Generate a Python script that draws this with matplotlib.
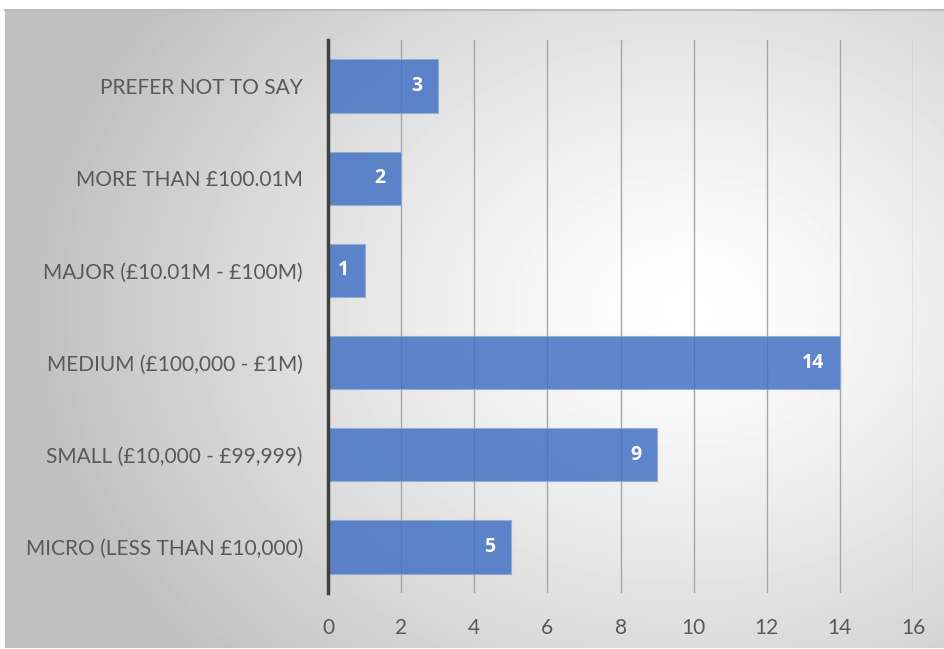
import matplotlib.pyplot as plt
import numpy as np

# turnover bands and number of responses
categories = ["MICRO (LESS THAN £10,000)", "SMALL (£10,000 - £99,999)",
              "MEDIUM (£100,000 - £1M)", "MAJOR (£10.01M - £100M)",
              "MORE THAN £100.01M", "PREFER NOT TO SAY"]
counts = [5, 9, 14, 1, 2, 3]
xticks = [0, 2, 4, 6, 8, 10, 12, 14, 16]

plt.rcParams['font.family'] = ['Lato', 'DejaVu Sans']

fig = plt.figure(figsize=(9.44, 6.49), dpi=100)

# radial grey-to-white backdrop behind the plot
bg = fig.add_axes([5/944, 1/649, 939/944, 638/649], zorder=-1)
yy, xx = np.mgrid[0:638, 0:939]
r = np.sqrt(((xx - 680) / 700.0)**2 + ((yy - 300) / 560.0)**2)
shade = np.clip(1.0 - 0.27 * r**1.3, 0.75, 1.0)
bg.imshow(shade, cmap='gray', vmin=0, vmax=1, aspect='auto', interpolation='bilinear')
bg.set_axis_off()
fig.add_artist(plt.Line2D([5/944, 1], [639/649, 639/649], color='#bdbdbd', lw=1.5))

ax = fig.add_axes([328/944, 56/649, 585/944, 553/649])
ax.patch.set_alpha(0)
y = np.arange(len(categories))
bars = ax.barh(y, counts, height=0.58, color='#4472C4', alpha=0.85,
               edgecolor='#8faadc', linewidth=0.8, zorder=3)
for yi, v in zip(y, counts):
    ax.text(v - 0.42, yi, str(v), ha='right', va='center', color='white',
            fontsize=14, fontweight='bold', family=['Open Sans', 'DejaVu Sans'],
            zorder=4)

ax.set_xlim(0, 16)
ax.set_ylim(-0.5, len(categories) - 0.5)
ax.set_xticks(xticks)
ax.set_yticks(y)
ax.set_yticklabels(categories)
ax.xaxis.grid(True, color='#a6a6a6', lw=1, zorder=0)
ax.tick_params(axis='both', length=0, labelsize=15, colors='#595959')
ax.tick_params(axis='x', pad=18)
ax.tick_params(axis='y', pad=18)
for s in ['top', 'right', 'bottom']:
    ax.spines[s].set_visible(False)
ax.spines['left'].set_color('#404040')
ax.spines['left'].set_linewidth(2.5)
ax.spines['left'].set_zorder(5)

fig.savefig('out.png', dpi=100)
